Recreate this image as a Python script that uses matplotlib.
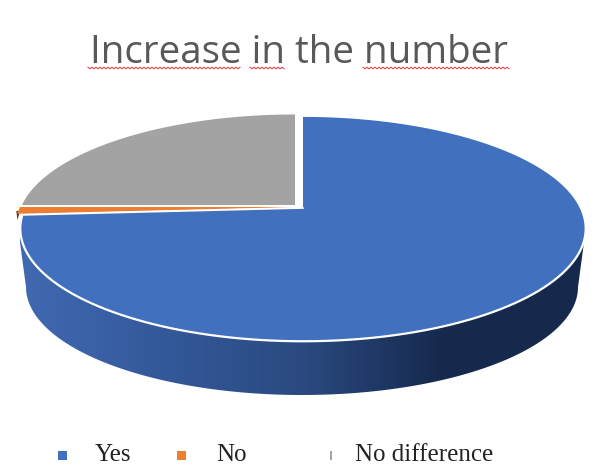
import numpy as np
import matplotlib
matplotlib.use("Agg")
import matplotlib.pyplot as plt
from matplotlib.colors import LinearSegmentedColormap
from matplotlib.patches import Polygon

title = "Increase in the number"
labels = ["Yes", "No", "No difference"]
values = [74, 1, 25]
colors = ["#4170BF", "#ED7D31", "#A3A3A3"]

# pixel layout of the 3d disc
centers = [(303, 208), (296, 207), (295, 205)]
radii = [278, 276, 273]
k = 109
p = 0.182
depth_y = 287


def rim(cx, cy, a0, a1, r=278, kk=k):
    # perspective circle, angle runs clockwise from the top
    t = np.radians(np.linspace(a0, a1, 300))
    d = 1 + p * np.cos(t)
    return cx + r * np.sin(t) / d, cy - kk * np.cos(t) / d


fig = plt.figure(figsize=(5.98, 4.76), dpi=100)
ax = fig.add_axes([0, 0, 1, 1])
ax.set_xlim(0, 598)
ax.set_ylim(476, 0)
ax.axis("off")

# side wall with gradient
t = np.radians(np.linspace(90, 270, 200))
wx = 302 + 276 * np.sin(t)
wy = depth_y - 108 * np.cos(t)
wall_x = np.r_[585, wx, 19]
wall_y = np.r_[235, wy, 235]
wall = Polygon(np.c_[wall_x, wall_y], closed=True, fc="none", ec="none")
ax.add_patch(wall)
wall_cmap = LinearSegmentedColormap.from_list(
    "wall", ["#4169B2", "#34599A", "#2A4A80", "#16294D", "#16294D"])
im = ax.imshow(np.linspace(0, 1, 256).reshape(1, -1), cmap=wall_cmap, aspect="auto",
               extent=[20, 585, 400, 230], zorder=1)
im.set_clip_path(wall)
ax.set_xlim(0, 598)
ax.set_ylim(476, 0)

# slices
start = 0
edges = np.cumsum(values) / np.sum(values) * 360
for i in range(len(values)):
    cx, cy = centers[i]
    x, y = rim(cx, cy, start, edges[i], r=radii[i], kk=k if i == 0 else k - 2)
    ax.fill(np.r_[cx, x], np.r_[cy, y], color=colors[i], lw=0, zorder=3)
    if i == 0:
        # white edge on the front of the big slice
        ax.plot(x, y, color="white", lw=1.6, zorder=4, clip_on=False)
        ax.plot(np.r_[cx, x[-1]], np.r_[cy, y[-1]], color="white", lw=1.2, zorder=4)
    start = edges[i]

# small dark side of the orange slice
ex, ey = rim(centers[1][0], centers[1][1], edges[0], edges[1])
ax.fill([ex[0] + 1, ex[0] + 5, ex[0] + 2], [ey[0] - 3, ey[0] - 3, ey[0] + 6], color="#5A3A1E", lw=0, zorder=2)

ax.text(299, 53, title, ha="center", va="center", color="#595959", fontsize=27.8, family="Open Sans")

# spell check squiggles under the title
for x0, x1 in [(88, 240), (250, 285), (363, 510)]:
    sx = np.arange(x0, x1 + 1, 2)
    sy = 68 + np.where(np.arange(len(sx)) % 2 == 0, -0.8, 0.8)
    ax.plot(sx, sy, color="#E2474B", lw=0.8)

# legend
marker_x = [62, 181, 331]
text_x = [95, 216, 355]
widths = [9, 9, 2]
for i in range(len(labels)):
    ax.fill([marker_x[i] - widths[i] / 2, marker_x[i] + widths[i] / 2, marker_x[i] + widths[i] / 2, marker_x[i] - widths[i] / 2],
            [450.5, 450.5, 459.5, 459.5], color=colors[i], lw=0)
    ax.text(text_x[i], 455, labels[i], ha="left", va="center", color="#222222",
            fontsize=18, family="Liberation Serif")

fig.savefig("out.png", dpi=100)
